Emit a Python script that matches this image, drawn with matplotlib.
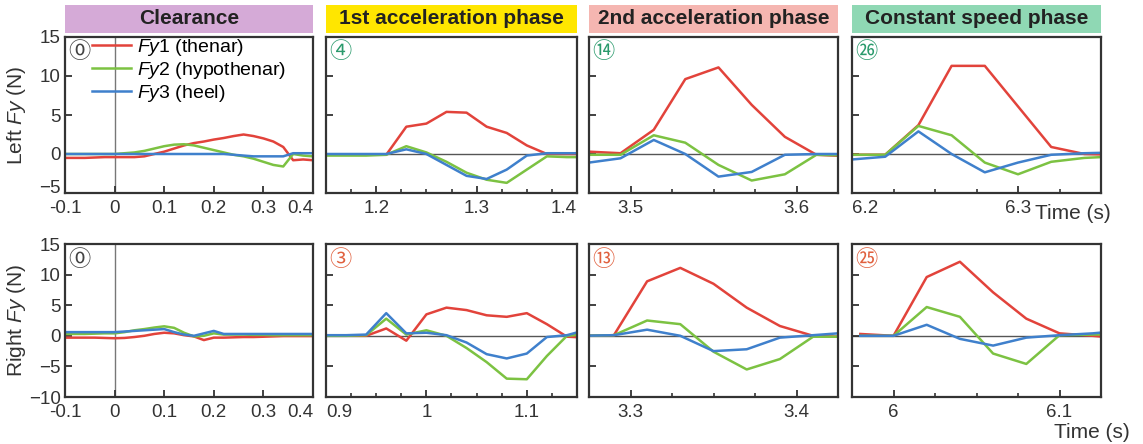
import matplotlib.pyplot as plt
from matplotlib.ticker import MultipleLocator

plt.rcParams['font.family'] = ['Liberation Sans', 'DejaVu Sans']
plt.rcParams['mathtext.fontset'] = 'custom'
plt.rcParams['mathtext.it'] = 'Liberation Sans:italic'
plt.rcParams['mathtext.rm'] = 'Liberation Sans'

phases = ['Clearance', '1st acceleration phase', '2nd acceleration phase', 'Constant speed phase']
phase_colors = ['#d5aad7', '#ffe600', '#f5b6b1', '#8fd8b4']
series_labels = [r'$Fy$1 (thenar)', r'$Fy$2 (hypothenar)', r'$Fy$3 (heel)']
line_colors = ['#e2433b', '#7cc242', '#3f80cc']
marks_left = ['⓪', '④', '⑭', '㉖']
marks_right = ['⓪', '③', '⑬', '㉕']
mark_colors_left = ['#444444', '#2a9a6c', '#2a9a6c', '#2a9a6c']
mark_colors_right = ['#444444', '#e0603e', '#e0603e', '#e0603e']
row_labels = ['Left $Fy$ (N)', 'Right $Fy$ (N)']

# ---- left foot (top row) ----
t_clear = [-0.10, -0.08, -0.06, -0.04, -0.02, 0.00, 0.02, 0.04, 0.06, 0.08, 0.10, 0.12, 0.14,
           0.16, 0.18, 0.20, 0.22, 0.24, 0.26, 0.28, 0.30, 0.32, 0.34, 0.36, 0.38, 0.40]
L_clear_fy1 = [-0.5, -0.5, -0.5, -0.45, -0.4, -0.4, -0.4, -0.4, -0.3, 0.0, 0.3, 0.7, 1.1,
               1.4, 1.6, 1.85, 2.05, 2.3, 2.5, 2.3, 2.0, 1.6, 0.9, -0.8, -0.7, -0.8]
L_clear_fy2 = [0.0, 0.0, 0.0, 0.0, 0.0, 0.0, 0.1, 0.2, 0.4, 0.7, 1.0, 1.2, 1.25,
               1.1, 0.8, 0.5, 0.2, -0.1, -0.3, -0.6, -1.0, -1.4, -1.6, 0.0, -0.2, -0.3]
L_clear_fy3 = [0.0, 0.0, 0.0, 0.0, 0.0, 0.0, 0.0, 0.0, 0.0, 0.0, 0.0, 0.0, 0.0,
               0.0, 0.0, 0.0, 0.0, -0.1, -0.2, -0.3, -0.3, -0.3, -0.3, 0.1, 0.1, 0.1]

t_acc1_L = [1.15, 1.17, 1.19, 1.21, 1.23, 1.25, 1.27, 1.29, 1.31, 1.33, 1.35, 1.37, 1.39, 1.41]
L_acc1_fy1 = [-0.1, -0.1, -0.1, -0.1, 3.5, 3.9, 5.4, 5.3, 3.5, 2.7, 1.1, 0.0, 0.0, 0.0]
L_acc1_fy2 = [-0.2, -0.2, -0.2, -0.1, 1.0, 0.2, -1.0, -2.4, -3.3, -3.7, -2.0, -0.3, -0.4, -0.4]
L_acc1_fy3 = [0.0, 0.0, 0.0, 0.0, 0.6, 0.0, -1.4, -2.8, -3.2, -2.0, -0.2, 0.1, 0.1, 0.1]

t_acc2_L = [3.475, 3.494, 3.514, 3.533, 3.553, 3.573, 3.593, 3.612, 3.632]
L_acc2_fy1 = [0.3, 0.1, 3.1, 9.6, 11.1, 6.3, 2.2, -0.1, -0.3]
L_acc2_fy2 = [-0.1, -0.1, 2.4, 1.45, -1.4, -3.4, -2.6, -0.1, -0.2]
L_acc2_fy3 = [-1.1, -0.55, 1.8, 0.0, -2.9, -2.3, -0.1, 0.0, 0.0]

t_const_L = [6.20, 6.22, 6.24, 6.26, 6.28, 6.30, 6.32, 6.34, 6.36]
L_const_fy1 = [-0.1, -0.1, 3.7, 11.3, 11.3, 6.1, 0.9, 0.0, -0.1]
L_const_fy2 = [-0.1, -0.1, 3.6, 2.4, -1.1, -2.6, -1.0, -0.5, -0.3]
L_const_fy3 = [-0.7, -0.35, 2.9, 0.0, -2.35, -1.1, -0.1, 0.1, 0.2]

# ---- right foot (bottom row) ----
R_clear_fy1 = [-0.3, -0.3, -0.3, -0.3, -0.35, -0.4, -0.35, -0.2, 0.0, 0.3, 0.5, 0.4, 0.1,
               -0.1, -0.7, -0.3, -0.3, -0.25, -0.2, -0.2, -0.15, -0.1, -0.05, -0.05, -0.05, -0.05]
R_clear_fy2 = [0.3, 0.3, 0.3, 0.35, 0.4, 0.4, 0.6, 0.9, 1.1, 1.35, 1.55, 1.3, 0.5,
               -0.1, 0.0, 0.4, 0.2, 0.2, 0.2, 0.15, 0.15, 0.1, 0.1, 0.1, 0.1, 0.1]
R_clear_fy3 = [0.6, 0.6, 0.6, 0.6, 0.6, 0.6, 0.7, 0.8, 0.9, 1.0, 1.1, 0.6, 0.2,
               0.0, 0.4, 0.8, 0.3, 0.3, 0.3, 0.3, 0.3, 0.3, 0.3, 0.3, 0.3, 0.3]

t_acc1_R = [0.90, 0.92, 0.94, 0.96, 0.98, 1.00, 1.02, 1.04, 1.06, 1.08, 1.10, 1.12, 1.14, 1.16]
R_acc1_fy1 = [0.0, 0.0, 0.0, 1.2, -0.8, 3.5, 4.6, 4.2, 3.35, 3.1, 3.7, 1.9, -0.15, -0.3]
R_acc1_fy2 = [0.0, 0.0, 0.1, 2.8, 0.2, 0.9, 0.0, -2.0, -4.3, -7.0, -7.1, -3.3, 0.0, 0.3]
R_acc1_fy3 = [0.1, 0.1, 0.2, 3.7, 0.4, 0.5, 0.1, -1.1, -3.0, -3.7, -2.9, -0.2, 0.1, 1.0]

t_acc2_R = [3.27, 3.29, 3.31, 3.33, 3.35, 3.37, 3.39, 3.41, 3.43]
R_acc2_fy1 = [0.0, 0.1, 8.9, 11.1, 8.5, 4.6, 1.6, 0.0, -0.2]
R_acc2_fy2 = [0.0, 0.1, 2.5, 1.9, -2.6, -5.5, -3.8, -0.15, -0.15]
R_acc2_fy3 = [0.0, 0.1, 1.0, 0.0, -2.5, -2.2, -0.3, 0.1, 0.5]

t_const_R = [5.98, 6.00, 6.02, 6.04, 6.06, 6.08, 6.10, 6.12, 6.14]
R_const_fy1 = [0.3, 0.0, 9.6, 12.1, 7.1, 2.8, 0.4, 0.0, -0.5]
R_const_fy2 = [0.0, 0.0, 4.7, 3.1, -2.9, -4.6, 0.1, 0.2, 0.3]
R_const_fy3 = [0.0, 0.0, 1.8, -0.5, -1.6, -0.3, 0.1, 0.4, 0.9]

# axis ranges and tick labels
xlims_top = [(-0.1, 0.4), (1.15, 1.40), (3.475, 3.625), (6.20, 6.35)]
xlims_bot = [(-0.1, 0.4), (0.90, 1.15), (3.275, 3.425), (5.975, 6.125)]
xticks_top = [[-0.1, 0, 0.1, 0.2, 0.3, 0.4], [1.2, 1.3, 1.4], [3.5, 3.6], [6.2, 6.3]]
xlabels_top = [['-0.1', '0', '0.1', '0.2', '0.3', '0.4'], ['1.2', '1.3', '1.4'], ['3.5', '3.6'], ['6.2', '6.3']]
xticks_bot = [[-0.1, 0, 0.1, 0.2, 0.3, 0.4], [0.9, 1.0, 1.1], [3.3, 3.4], [6.0, 6.1]]
xlabels_bot = [['-0.1', '0', '0.1', '0.2', '0.3', '0.4'], ['0.9', '1', '1.1'], ['3.3', '3.4'], ['6', '6.1']]
yticks_top = [-5, 0, 5, 10, 15]
yticks_bot = [-10, -5, 0, 5, 10, 15]

top_data = [(t_clear, [L_clear_fy1, L_clear_fy2, L_clear_fy3]),
            (t_acc1_L, [L_acc1_fy1, L_acc1_fy2, L_acc1_fy3]),
            (t_acc2_L, [L_acc2_fy1, L_acc2_fy2, L_acc2_fy3]),
            (t_const_L, [L_const_fy1, L_const_fy2, L_const_fy3])]
bot_data = [(t_clear, [R_clear_fy1, R_clear_fy2, R_clear_fy3]),
            (t_acc1_R, [R_acc1_fy1, R_acc1_fy2, R_acc1_fy3]),
            (t_acc2_R, [R_acc2_fy1, R_acc2_fy2, R_acc2_fy3]),
            (t_const_R, [R_const_fy1, R_const_fy2, R_const_fy3])]

W, H = 1143, 444
fig = plt.figure(figsize=(W / 100, H / 100), dpi=100)

col_px = [(65, 313), (326, 577), (589, 838), (852, 1101)]
row_px = [(37, 193), (244, 397)]


def px_axes(x0, x1, y0, y1):
    return fig.add_axes([x0 / W, 1 - y1 / H, (x1 - x0) / W, (y1 - y0) / H])


def style_axes(ax, col):
    for s in ax.spines.values():
        s.set_linewidth(1.6)
        s.set_color('#333333')
    ax.tick_params(direction='in', which='major', length=5, width=1.3, labelsize=13.5,
                   pad=3, color='#333333', labelcolor='#333333')
    ax.tick_params(axis='x', which='major', pad=5)
    ax.tick_params(direction='in', which='minor', length=3, width=1.2, color='#333333')
    if col > 0:
        ax.xaxis.set_minor_locator(MultipleLocator(0.025))
        ax.tick_params(axis='y', labelleft=False)


for row, (data, xlims, xticks, xlabels, yticks, marks, mcols) in enumerate([
        (top_data, xlims_top, xticks_top, xlabels_top, yticks_top, marks_left, mark_colors_left),
        (bot_data, xlims_bot, xticks_bot, xlabels_bot, yticks_bot, marks_right, mark_colors_right)]):
    y0, y1 = row_px[row]
    for col in range(4):
        x0, x1 = col_px[col]
        ax = px_axes(x0, x1, y0, y1)
        t, ys = data[col]
        if col == 0:
            ax.axvline(0, color='#777777', lw=1.0, zorder=1)
        else:
            ax.axhline(0, color='#555555', lw=1.0, zorder=1)
        handles = []
        for y, c, lab in zip(ys, line_colors, series_labels):
            h, = ax.plot(t, y, color=c, lw=1.8, label=lab, zorder=2)
            handles.append(h)
        ax.set_xlim(*xlims[col])
        ax.set_ylim(yticks[0], yticks[-1])
        ax.set_xticks(xticks[col])
        ax.set_xticklabels(xlabels[col])
        ax.set_yticks(yticks)
        style_axes(ax, col)
        # labels sitting on the panel edges are pulled inward, as in the figure
        for lab, v in zip(ax.get_xticklabels(), xticks[col]):
            if abs(v - xlims[col][1]) < 1e-9:
                lab.set_horizontalalignment('right')
            elif col > 0 and abs(v - xlims[col][0]) < 1e-9:
                lab.set_horizontalalignment('left')
        if col == 0 and row == 0:
            ax.get_yticklabels()[0].set_verticalalignment('baseline')
        ax.text(14 / (x1 - x0), 1 - 15 / (y1 - y0), marks[col], transform=ax.transAxes,
                ha='center', va='center', fontsize=16, color=mcols[col],
                family=['Noto Sans CJK JP', 'DejaVu Sans'])
        if row == 0 and col == 0:
            ax.legend(handles=handles, loc='upper left', bbox_to_anchor=(0.11, 1.0),
                      frameon=False, fontsize=14, handlelength=2.0, handletextpad=0.3,
                      labelspacing=0.1, borderpad=0, borderaxespad=0)
    fig.text(17 / W, 1 - (y0 + y1) / 2 / H, row_labels[row], rotation=90, ha='center',
             va='center', fontsize=15, color='#333333')

# phase headers above the top row
for col in range(4):
    x0, x1 = col_px[col]
    hx = px_axes(x0, x1, 5, 33)
    hx.set_facecolor(phase_colors[col])
    hx.set_xticks([])
    hx.set_yticks([])
    for s in hx.spines.values():
        s.set_visible(False)
    hx.text(0.5, 0.5, phases[col], ha='center', va='center', fontsize=15,
            fontweight='bold', color='#222222', transform=hx.transAxes)

fig.text(1073 / W, 1 - 213 / H, 'Time (s)', ha='center', va='center', fontsize=15, color='#333333')
fig.text(1092 / W, 1 - 432 / H, 'Time (s)', ha='center', va='center', fontsize=15, color='#333333')

fig.savefig('out.png', dpi=100)
